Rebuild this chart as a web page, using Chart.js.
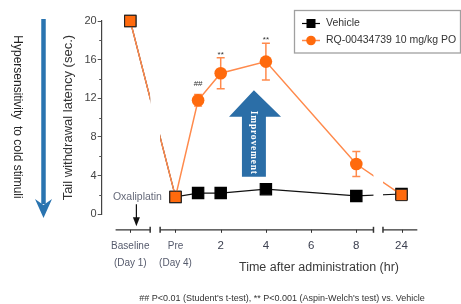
<!DOCTYPE html>
<html>
<head>
<meta charset="utf-8">
<title>Tail withdrawal latency</title>
<script src="https://cdn.jsdelivr.net/npm/chart.js@4.4.1/dist/chart.umd.min.js"></script>
<style>
  html, body { margin: 0; padding: 0; background: #fff; }
  #wrap { width: 461px; height: 304px; position: relative; }
</style>
</head>
<body>
<div id="wrap"><canvas id="latencyChart" width="461" height="304"></canvas></div>
<script>
// Time points on a broken axis: Baseline sits at -2, 24 hr sits at 10
const timePos = [-2, 0, 1, 2, 4, 8, 10];
const vehicle = [20, 1.8, 2.2, 2.2, 2.6, 1.9, 2.1];
const rq = [20, 1.8, 11.8, 14.6, 15.8, 5.2, 2.0];
const rqErr = [0, 0, 0.6, 1.6, 1.9, 1.3, 0];
const sigMarks = ['', '', '##', '**', '**', '', ''];

const xTickPos = [-2, 0, 2, 4, 6, 8, 10];
const xTickText = { '-2': ['Baseline', '(Day 1)'], '0': ['Pre', '(Day 4)'], '2': '2', '4': '4', '6': '6', '8': '8', '10': '24' };
const yTicks = [0, 4, 8, 12, 16, 20];
const axisBreaks = [[-1.12, -0.68], [8.76, 9.18]];
const axisRange = [-2.65, 10.7];

const ORANGE = '#ff6a0d';
const ORANGE_LINE = '#ff8a4c';
const BLUE = '#2a74b0';
const FONT = "'Liberation Sans', Arial, sans-serif";

const toPoints = arr => arr.map((v, i) => ({ x: timePos[i], y: v }));

const decorations = {
    id: 'decorations',
    beforeDatasetsDraw(chart) {
        const { ctx, scales: { x, y } } = chart;

        // error bars (under the markers)
        ctx.save();
        ctx.strokeStyle = ORANGE_LINE;
        ctx.lineWidth = 1.5;
        rq.forEach((v, i) => {
            if (!rqErr[i]) return;
            const px = x.getPixelForValue(timePos[i]);
            const top = y.getPixelForValue(v + rqErr[i]);
            const bot = y.getPixelForValue(v - rqErr[i]);
            ctx.beginPath();
            ctx.moveTo(px, top); ctx.lineTo(px, bot);
            ctx.moveTo(px - 4, top); ctx.lineTo(px + 4, top);
            ctx.moveTo(px - 4, bot); ctx.lineTo(px + 4, bot);
            ctx.stroke();
        });
        ctx.restore();

        // clip the lines where the axis is broken
        ctx.save();
        ctx.beginPath();
        let left = 0;
        axisBreaks.forEach(([a, b]) => {
            const pa = x.getPixelForValue(a);
            ctx.rect(left, 0, pa - left, chart.height);
            left = x.getPixelForValue(b);
        });
        ctx.rect(left, 0, chart.width - left, chart.height);
        ctx.clip();
    },
    afterDatasetsDraw(chart) {
        chart.ctx.restore();
    },
    afterDraw(chart) {
        const { ctx, chartArea, scales: { x, y } } = chart;
        ctx.save();

        // y minor ticks
        ctx.strokeStyle = '#555';
        ctx.lineWidth = 1;
        for (let v = 2; v < 20; v += 4) {
            const py = Math.round(y.getPixelForValue(v)) + 0.5;
            ctx.beginPath();
            ctx.moveTo(chartArea.left - 2.5, py);
            ctx.lineTo(chartArea.left, py);
            ctx.stroke();
        }

        // broken x axis
        const axisY = chartArea.bottom + 15.5;
        const edges = [axisRange[0]];
        axisBreaks.forEach(([a, b]) => edges.push(a, b));
        edges.push(axisRange[1]);
        ctx.strokeStyle = '#333';
        ctx.lineWidth = 1.2;
        for (let s = 0; s < edges.length; s += 2) {
            const a = x.getPixelForValue(edges[s]);
            const b = x.getPixelForValue(edges[s + 1]);
            ctx.beginPath();
            ctx.moveTo(a, axisY); ctx.lineTo(b, axisY);
            ctx.stroke();
            ctx.lineWidth = 1.5;
            if (s > 0) { ctx.beginPath(); ctx.moveTo(a, axisY - 3); ctx.lineTo(a, axisY + 3); ctx.stroke(); }
            if (s < edges.length - 2) { ctx.beginPath(); ctx.moveTo(b, axisY - 3); ctx.lineTo(b, axisY + 3); ctx.stroke(); }
            ctx.lineWidth = 1.2;
        }
        ctx.lineWidth = 1;
        xTickPos.forEach(v => {
            const px = Math.round(x.getPixelForValue(v)) + 0.5;
            ctx.beginPath();
            ctx.moveTo(px, axisY); ctx.lineTo(px, axisY + 3);
            ctx.stroke();
        });

        // x axis title
        ctx.fillStyle = '#3a3a3a';
        ctx.font = '12.5px ' + FONT;
        ctx.textAlign = 'center';
        ctx.textBaseline = 'middle';
        ctx.fillText('Time after administration (hr)', x.getPixelForValue(6.35), chartArea.bottom + 53.5);

        // footnote
        ctx.fillStyle = '#333';
        ctx.font = '9px ' + FONT;
        ctx.fillText("## P<0.01 (Student's t-test), ** P<0.001 (Aspin-Welch's test) vs. Vehicle", 282, 298.5);

        // significance marks
        ctx.font = '8px ' + FONT;
        ctx.textBaseline = 'alphabetic';
        sigMarks.forEach((m, i) => {
            if (!m) return;
            const px = x.getPixelForValue(timePos[i]);
            const top = y.getPixelForValue(rq[i] + rqErr[i]);
            ctx.fillText(m, px, top - (m === '##' ? 8 : 1));
        });

        // Oxaliplatin dosing arrow
        const ox = x.getPixelForValue(-1.73);
        ctx.fillStyle = '#666a7a';
        ctx.font = '10.5px ' + FONT;
        ctx.textBaseline = 'middle';
        ctx.fillText('Oxaliplatin', ox + 1, chartArea.bottom - 17.5);
        ctx.strokeStyle = '#111';
        ctx.fillStyle = '#111';
        ctx.lineWidth = 1.2;
        ctx.beginPath();
        ctx.moveTo(ox, chartArea.bottom - 10);
        ctx.lineTo(ox, chartArea.bottom + 5);
        ctx.stroke();
        ctx.beginPath();
        ctx.moveTo(ox - 3.5, chartArea.bottom + 3);
        ctx.lineTo(ox + 3.5, chartArea.bottom + 3);
        ctx.lineTo(ox, chartArea.bottom + 12);
        ctx.closePath();
        ctx.fill();

        // Improvement arrow
        const bx0 = x.getPixelForValue(2.94), bx1 = x.getPixelForValue(4.0);
        const hx0 = x.getPixelForValue(2.37), hx1 = x.getPixelForValue(4.67);
        const tipX = x.getPixelForValue(3.47);
        const tipY = y.getPixelForValue(12.84);
        const neckY = y.getPixelForValue(10.1);
        const baseY = y.getPixelForValue(3.88);
        ctx.fillStyle = '#2b6ea7';
        ctx.beginPath();
        ctx.moveTo(tipX, tipY);
        ctx.lineTo(hx1, neckY);
        ctx.lineTo(bx1, neckY);
        ctx.lineTo(bx1, baseY);
        ctx.lineTo(bx0, baseY);
        ctx.lineTo(bx0, neckY);
        ctx.lineTo(hx0, neckY);
        ctx.closePath();
        ctx.fill();
        ctx.save();
        ctx.translate((bx0 + bx1) / 2, (neckY + baseY) / 2 - 4);
        ctx.rotate(Math.PI / 2);
        ctx.fillStyle = '#fff';
        ctx.font = "bold 9.5px 'Liberation Serif', 'DejaVu Serif', serif";
        ctx.letterSpacing = '0.8px';
        ctx.textAlign = 'center';
        ctx.textBaseline = 'middle';
        ctx.fillText('Improvement', 0, 0);
        ctx.restore();

        // left: hypersensitivity arrow
        ctx.strokeStyle = BLUE;
        ctx.fillStyle = BLUE;
        ctx.lineWidth = 4.5;
        ctx.beginPath();
        ctx.moveTo(43.5, 19);
        ctx.lineTo(43.5, 204);
        ctx.stroke();
        ctx.beginPath();
        ctx.moveTo(35, 199);
        ctx.lineTo(43.5, 218);
        ctx.lineTo(52, 199);
        ctx.lineTo(43.5, 205);
        ctx.closePath();
        ctx.fill();

        ctx.save();
        ctx.translate(17, 117);
        ctx.rotate(Math.PI / 2);
        ctx.fillStyle = '#222';
        ctx.font = '12px ' + FONT;
        ctx.textAlign = 'center';
        ctx.textBaseline = 'middle';
        ctx.fillText('Hypersensitivity  to cold stimuli', 0, 0);
        ctx.restore();

        // legend box
        ctx.strokeStyle = '#a0a0a0';
        ctx.lineWidth = 1.3;
        ctx.strokeRect(294.5, 10.5, 166, 42.5);
        ctx.font = '10.5px ' + FONT;
        ctx.textAlign = 'left';
        ctx.textBaseline = 'middle';
        // Vehicle
        ctx.strokeStyle = '#000';
        ctx.lineWidth = 1.2;
        ctx.beginPath(); ctx.moveTo(302, 23.5); ctx.lineTo(320, 23.5); ctx.stroke();
        ctx.fillStyle = '#000';
        ctx.fillRect(306.5, 19, 9, 9);
        ctx.fillStyle = '#333';
        ctx.fillText('Vehicle', 326, 23.5);
        // RQ
        ctx.strokeStyle = ORANGE_LINE;
        ctx.lineWidth = 1.5;
        ctx.beginPath(); ctx.moveTo(302, 40.5); ctx.lineTo(320, 40.5); ctx.stroke();
        ctx.fillStyle = ORANGE;
        ctx.beginPath(); ctx.arc(311, 40.5, 4.8, 0, Math.PI * 2); ctx.fill();
        ctx.fillStyle = '#333';
        ctx.fillText('RQ-00434739 10 mg/kg PO', 326, 40.5);

        ctx.restore();
    }
};

const sameAsVehicle = ctx => Math.abs(rq[ctx.dataIndex] - vehicle[ctx.dataIndex]) < 0.3;

new Chart(document.getElementById('latencyChart'), {
    type: 'line',
    data: {
        datasets: [{
            label: 'RQ-00434739 10 mg/kg PO',
            data: toPoints(rq),
            borderColor: ORANGE_LINE,
            borderWidth: 1.5,
            backgroundColor: ORANGE,
            pointBackgroundColor: ORANGE,
            pointBorderColor: ctx => sameAsVehicle(ctx) ? '#222' : ORANGE,
            pointBorderWidth: ctx => sameAsVehicle(ctx) ? 1 : 0,
            pointStyle: ctx => sameAsVehicle(ctx) ? 'rect' : 'circle',
            pointRadius: ctx => sameAsVehicle(ctx) ? 8 : 6.3,
            tension: 0,
            clip: false
        }, {
            label: 'Vehicle',
            data: toPoints(vehicle),
            borderColor: '#111',
            borderWidth: 1.2,
            backgroundColor: '#000',
            pointBackgroundColor: '#000',
            pointBorderColor: '#000',
            pointStyle: 'rect',
            pointRadius: 8,
            tension: 0,
            clip: false
        }]
    },
    options: {
        responsive: false,
        animation: false,
        devicePixelRatio: 1,
        layout: { padding: { left: 57, top: 21, right: 30, bottom: 0 } },
        plugins: {
            legend: { display: false },
            tooltip: { enabled: false }
        },
        scales: {
            x: {
                type: 'linear',
                min: -3.265,
                max: 11.305,
                grid: { display: false, drawTicks: false },
                border: { display: false },
                afterBuildTicks: scale => { scale.ticks = xTickPos.map(v => ({ value: v })); },
                afterFit: scale => { scale.height = 89.7; },
                ticks: {
                    autoSkip: false,
                    maxRotation: 0,
                    padding: 23,
                    callback: value => xTickText[String(value)],
                    color: ctx => ctx.tick.value <= 0 ? '#555a6c' : '#3c4050',
                    font: ctx => ctx.tick && ctx.tick.value <= 0
                        ? { family: FONT, size: 10, lineHeight: 1.7 }
                        : { family: FONT, size: 11.5, lineHeight: 1.45 }
                }
            },
            y: {
                min: 0,
                max: 20,
                afterBuildTicks: scale => { scale.ticks = yTicks.map(v => ({ value: v })); },
                afterFit: scale => { scale.width = 44.7; },
                grid: { drawOnChartArea: false, drawTicks: true, tickLength: 4, color: '#555', lineWidth: 1 },
                border: { display: true, color: '#444', width: 1.2 },
                ticks: {
                    padding: 1,
                    color: '#444',
                    font: { family: FONT, size: 11 }
                },
                title: {
                    display: true,
                    text: 'Tail withdrawal latency (sec.)',
                    color: '#333',
                    font: { family: FONT, size: 13 },
                    padding: { top: 4, bottom: 0 }
                }
            }
        }
    },
    plugins: [decorations]
});
</script>
</body>
</html>
